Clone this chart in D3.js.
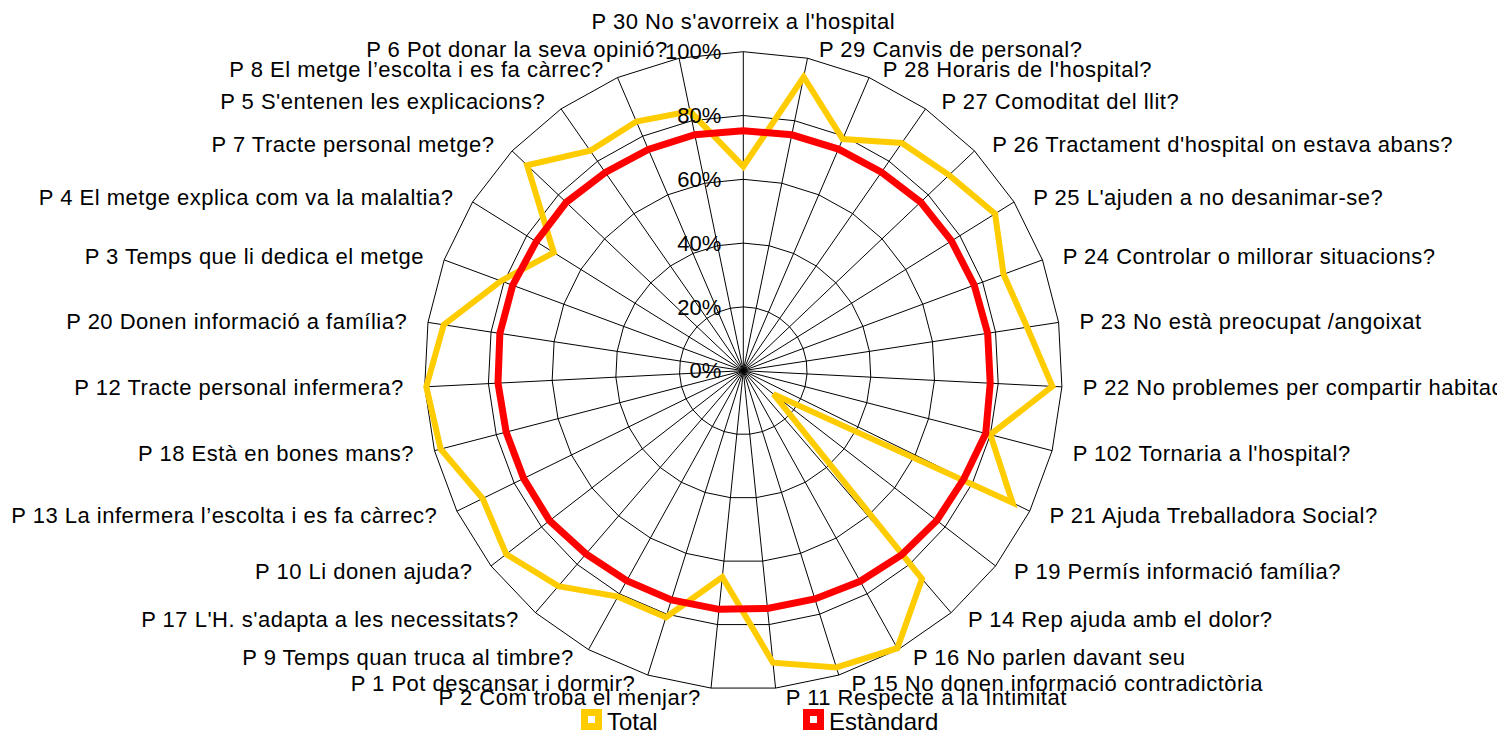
<!DOCTYPE html>
<html>
<head>
<meta charset="utf-8">
<script src="https://cdnjs.cloudflare.com/ajax/libs/d3/7.8.5/d3.min.js"></script>
<style>
  body { margin: 0; background: #fff; }
  svg { display: block; font-family: "Liberation Sans", Arial, sans-serif; }
  .cat { font-size: 22px; letter-spacing: 0.5px; fill: #000; }
  .tick { font-size: 22px; fill: #000; }
  .legend { font-size: 24px; fill: #000; }
  .grid { fill: none; stroke: #000; stroke-width: 1; }
</style>
</head>
<body>
<div id="chart"></div>
<script>
var categories = [
  "P 30 No s'avorreix a l'hospital",
  "P 29 Canvis de personal?",
  "P 28 Horaris de l'hospital?",
  "P 27 Comoditat del llit?",
  "P 26 Tractament d'hospital on estava abans?",
  "P 25 L'ajuden a no desanimar-se?",
  "P 24 Controlar o millorar situacions?",
  "P 23 No està preocupat /angoixat",
  "P 22 No problemes per compartir habitació?",
  "P 102 Tornaria a l'hospital?",
  "P 21 Ajuda Treballadora Social?",
  "P 19 Permís informació família?",
  "P 14 Rep ajuda amb el dolor?",
  "P 16 No parlen davant seu",
  "P 15 No donen informació contradictòria",
  "P 11 Respecte a la Intimitat",
  "P 2 Com troba el menjar?",
  "P 1 Pot descansar i dormir?",
  "P 9 Temps quan truca al timbre?",
  "P 17 L'H. s'adapta a les necessitats?",
  "P 10 Li donen ajuda?",
  "P 13 La infermera l\u2019escolta i es fa càrrec?",
  "P 18 Està en bones mans?",
  "P 12 Tracte personal infermera?",
  "P 20 Donen informació a família?",
  "P 3 Temps que li dedica el metge",
  "P 4 El metge explica com va la malaltia?",
  "P 7 Tracte personal metge?",
  "P 5 S'entenen les explicacions?",
  "P 8 El metge l\u2019escolta i es fa càrrec?",
  "P 6 Pot donar la seva opinió?"
];

var totalValues = [
  0.64, 0.94, 0.79, 0.87, 0.89, 0.93, 0.87, 0.90, 0.97, 0.80, 0.94,
  0.12, 0.86, 0.995, 0.975, 0.92, 0.65, 0.81, 0.81, 0.89, 0.94,
  0.91, 0.98, 0.995, 0.95, 0.81, 0.70, 0.935, 0.84, 0.85, 0.83
];

var standardValues = [
  0.752, 0.755, 0.756, 0.758, 0.767, 0.769, 0.772, 0.775, 0.775, 0.785, 0.770,
  0.767, 0.761, 0.755, 0.750, 0.749, 0.752, 0.753, 0.753, 0.757, 0.768,
  0.767, 0.768, 0.770, 0.772, 0.771, 0.765, 0.766, 0.757, 0.755, 0.755
];

var tickValues = [0, 0.2, 0.4, 0.6, 0.8, 1];

var seriesNames = ["Total", "Estàndard"];
var seriesColors = ["#ffcc00", "#ff0000"];

var width = 1497,
    height = 733,
    cx = 743.3,
    cy = 370.7,
    radius = 319;

var svg = d3.select("#chart").append("svg")
    .attr("width", width)
    .attr("height", height);

var r = d3.scaleLinear().domain([0, 1]).range([0, radius]);
var angle = d3.scaleLinear().domain([0, categories.length]).range([0, 2 * Math.PI]);
var pct = d3.format(".0%");

var g = svg.append("g").attr("transform", "translate(" + cx + "," + cy + ")");

// polygon grid rings
var ring = d3.lineRadial()
    .angle(function(d, i) { return angle(i); })
    .radius(function(d) { return r(d); })
    .curve(d3.curveLinearClosed);

g.selectAll(".ring")
    .data(tickValues.filter(function(t) { return t > 0; }))
    .enter().append("path")
    .attr("class", "grid")
    .attr("d", function(t) { return ring(categories.map(function() { return t; })); });

// spokes
g.selectAll(".spoke")
    .data(categories)
    .enter().append("line")
    .attr("class", "grid")
    .attr("x1", 0).attr("y1", 0)
    .attr("x2", function(d, i) { return r(1) * Math.sin(angle(i)); })
    .attr("y2", function(d, i) { return -r(1) * Math.cos(angle(i)); });

// series
var line = d3.lineRadial()
    .angle(function(d, i) { return angle(i); })
    .radius(function(d) { return r(d); })
    .curve(d3.curveLinearClosed);

[totalValues, standardValues].forEach(function(vals, k) {
  g.append("path")
      .attr("d", line(vals))
      .attr("fill", "none")
      .attr("stroke", seriesColors[k])
      .attr("stroke-width", k == 0 ? 6 : 7)
      .attr("stroke-linejoin", "miter")
      .attr("stroke-miterlimit", 4);
});

// radial axis labels
g.selectAll(".tick")
    .data(tickValues)
    .enter().append("text")
    .attr("class", "tick")
    .attr("x", -22)
    .attr("y", function(t) { return -r(t); })
    .attr("dy", "0.35em")
    .attr("text-anchor", "end")
    .text(pct);

// category labels
g.selectAll(".cat")
    .data(categories)
    .enter().append("text")
    .attr("class", "cat")
    .each(function(d, i) {
      var a = angle(i), s = Math.sin(a), c = Math.cos(a);
      var px = r(1) * s, py = -r(1) * c;
      var t = d3.select(this);
      if (i == 0) {
        t.attr("x", px).attr("y", py - 30).attr("text-anchor", "middle");
      } else {
        var gap = 9 + 12 * Math.abs(s);
        t.attr("x", s > 0 ? px + gap : px - gap)
         .attr("y", py - 9 * c)
         .attr("text-anchor", s > 0 ? "start" : "end");
      }
      t.attr("dy", "0.35em").text(d);
    });

// legend
var legendX = [581, 803];
var legend = svg.selectAll(".leg")
    .data(seriesNames)
    .enter().append("g")
    .attr("transform", function(d, i) { return "translate(" + legendX[i] + ",709)"; });

legend.append("rect")
    .attr("width", 21).attr("height", 21)
    .attr("fill", function(d, i) { return seriesColors[i]; });

legend.append("rect")
    .attr("x", 7).attr("y", 7)
    .attr("width", 7).attr("height", 7)
    .attr("fill", "#fff");

legend.append("text")
    .attr("class", "legend")
    .attr("x", 26)
    .attr("y", 20.5)
    .text(function(d) { return d; });
</script>
</body>
</html>
